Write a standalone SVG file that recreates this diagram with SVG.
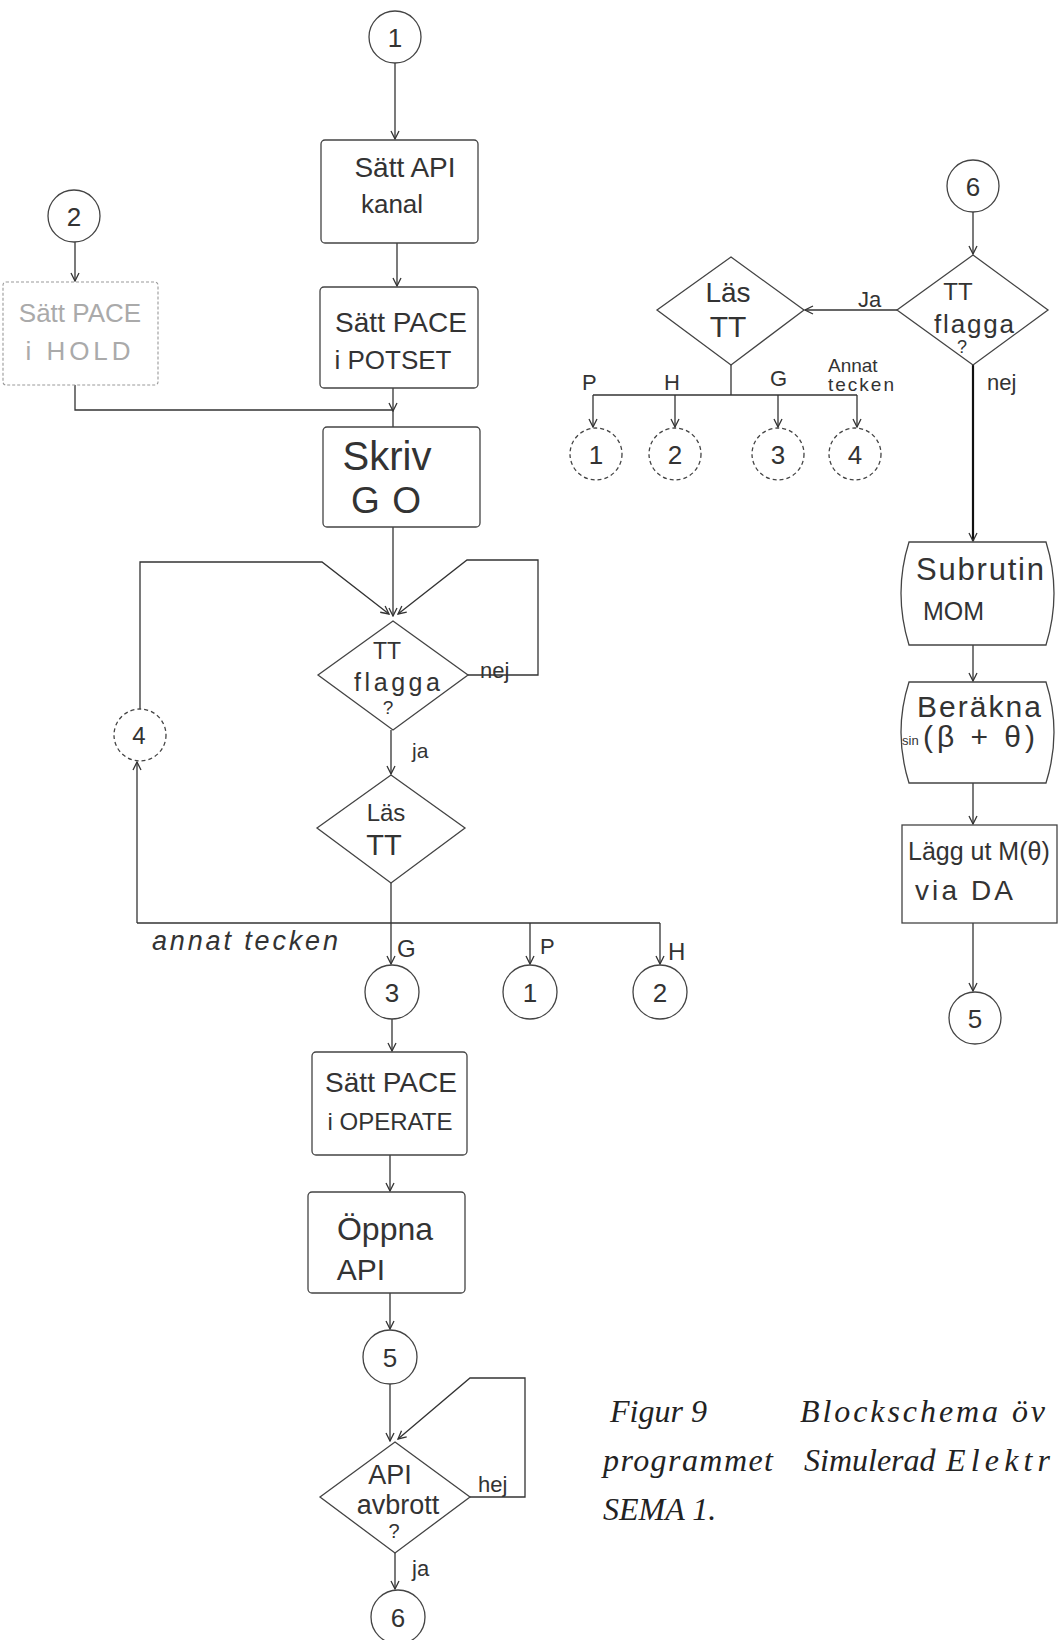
<svg xmlns="http://www.w3.org/2000/svg" width="1058" height="1640" viewBox="0 0 1058 1640">
<style>
.bg{fill:#fff}
.n{fill:none;stroke:#444;stroke-width:1.3}
.faint{fill:none;stroke:#999;stroke-width:1.1;stroke-dasharray:3 2}
.c{fill:none;stroke:#333;stroke-width:1.3}
.thick{fill:none;stroke:#111;stroke-width:2.2}
.t{font-family:"Liberation Sans","DejaVu Sans",sans-serif;fill:#333;text-anchor:middle}
.tl{font-family:"Liberation Sans","DejaVu Sans",sans-serif;fill:#333}
.ft{font-family:"Liberation Sans","DejaVu Sans",sans-serif;fill:#aaa;text-anchor:middle}
.cap{font-family:"Liberation Serif","DejaVu Serif",serif;font-style:italic;fill:#222;font-size:32px}
</style>
<defs>
<marker id="ar" viewBox="0 0 10 10" refX="9" refY="5" markerWidth="10" markerHeight="10" markerUnits="userSpaceOnUse" orient="auto">
<path d="M1,1 L9,5 L1,9" fill="none" stroke="#333" stroke-width="1.3"/>
</marker>
</defs>
<rect class="bg" x="0" y="0" width="1058" height="1640"/>

<g id="connectors">
<path class="c" d="M395 63 V139" marker-end="url(#ar)"/>
<path class="c" d="M397 243 V286" marker-end="url(#ar)"/>
<path class="c" d="M393 388 V411" marker-end="url(#ar)"/>
<path class="c" d="M393 411 V427"/>
<path class="c" d="M75 242 V281" marker-end="url(#ar)"/>
<path class="c" d="M75 385 V410 H393"/>
<path class="c" d="M393 527 V616" marker-end="url(#ar)"/>
<path class="c" d="M140 709 V562 H322 L389 614" marker-end="url(#ar)"/>
<path class="c" d="M468 675 H538 V560 H467 L398 614" marker-end="url(#ar)"/>
<path class="c" d="M391 730 V774" marker-end="url(#ar)"/>
<path class="c" d="M391 883 V923"/>
<path class="c" d="M137 923 H660"/>
<path class="c" d="M391 923 V964" marker-end="url(#ar)"/>
<path class="c" d="M530 923 V964" marker-end="url(#ar)"/>
<path class="c" d="M660 923 V964" marker-end="url(#ar)"/>
<path class="c" d="M137 923 V762" marker-end="url(#ar)"/>
<path class="c" d="M392 1019 V1051" marker-end="url(#ar)"/>
<path class="c" d="M390 1155 V1191" marker-end="url(#ar)"/>
<path class="c" d="M390 1293 V1329" marker-end="url(#ar)"/>
<path class="c" d="M390 1384 V1441" marker-end="url(#ar)"/>
<path class="c" d="M470 1497 H525 V1378 H470 L398 1439" marker-end="url(#ar)"/>
<path class="c" d="M395 1553 V1589" marker-end="url(#ar)"/>
<path class="c" d="M973 212 V254" marker-end="url(#ar)"/>
<path class="c" d="M897 310 H805" marker-end="url(#ar)"/>
<path class="c" d="M731 365 V395"/>
<path class="c" d="M593 395 H857"/>
<path class="c" d="M593 395 V427" marker-end="url(#ar)"/>
<path class="c" d="M675 395 V427" marker-end="url(#ar)"/>
<path class="c" d="M778 395 V427" marker-end="url(#ar)"/>
<path class="c" d="M857 395 V427" marker-end="url(#ar)"/>
<path class="thick" d="M973 365 V541" marker-end="url(#ar)"/>
<path class="c" d="M973 645 V681" marker-end="url(#ar)"/>
<path class="c" d="M973 783 V824" marker-end="url(#ar)"/>
<path class="c" d="M973 923 V991" marker-end="url(#ar)"/>
<g id="connector-labels">
<text class="tl" x="480" y="678" font-size="22">nej</text>
<text class="tl" x="412" y="758" font-size="21">ja</text>
<text class="tl" x="152" y="950" font-size="27" textLength="186" lengthAdjust="spacing" font-style="italic">annat tecken</text>
<text class="tl" x="397" y="957" font-size="24">G</text>
<text class="tl" x="540" y="954" font-size="22">P</text>
<text class="tl" x="668" y="960" font-size="24">H</text>
<text class="tl" x="478" y="1492" font-size="22">hej</text>
<text class="tl" x="412" y="1576" font-size="22">ja</text>
<text class="tl" x="858" y="307" font-size="22">Ja</text>
<text class="tl" x="987" y="390" font-size="22">nej</text>
<text class="tl" x="582" y="390" font-size="22">P</text>
<text class="tl" x="664" y="390" font-size="22">H</text>
<text class="tl" x="770" y="386" font-size="22">G</text>
<text class="tl" x="828" y="372" font-size="19">Annat</text>
<text class="tl" x="828" y="391" font-size="19" textLength="66" lengthAdjust="spacing">tecken</text>
</g>
</g>

<g id="c1"><circle class="n" cx="395" cy="37" r="26"/><text class="t" x="395" y="47" font-size="26">1</text></g>
<g id="boxA"><rect class="n" x="321" y="140" width="157" height="103" rx="4"/><text class="t" x="405" y="177" font-size="28">Sätt API</text><text class="t" x="392" y="213" font-size="26">kanal</text></g>
<g id="boxB"><rect class="n" x="320" y="287" width="158" height="101" rx="4"/><text class="t" x="401" y="332" font-size="28">Sätt PACE</text><text class="t" x="393" y="369" font-size="26">i POTSET</text></g>
<g id="c2"><circle class="n" cx="74" cy="216" r="26"/><text class="t" x="74" y="226" font-size="26">2</text></g>
<g id="box2"><rect class="faint" x="3" y="282" width="155" height="103" rx="3"/><text class="ft" x="80" y="322" font-size="26">Sätt PACE</text><text class="ft" x="78" y="360" font-size="26" textLength="105" lengthAdjust="spacing">i HOLD</text></g>
<g id="boxC"><rect class="n" x="323" y="427" width="157" height="100" rx="4"/><text class="t" x="387" y="470" font-size="40">Skriv</text><text class="t" x="386" y="513" font-size="37" textLength="70" lengthAdjust="spacing">GO</text></g>
<g id="d1"><polygon class="n" points="393,621 468,675 393,730 318,675"/><text class="t" x="387" y="659" font-size="23">TT</text><text class="t" x="397" y="691" font-size="25" textLength="86" lengthAdjust="spacing">flagga</text><text class="t" x="388" y="714" font-size="19">?</text></g>
<g id="c4"><circle class="n" cx="140" cy="735" r="26" stroke-dasharray="4 3"/><text class="t" x="139" y="744" font-size="24">4</text></g>
<g id="d2"><polygon class="n" points="391,775 465,828 391,883 317,828"/><text class="t" x="386" y="821" font-size="24">Läs</text><text class="t" x="384" y="855" font-size="29">TT</text></g>
<g id="c3"><circle class="n" cx="392" cy="992" r="27"/><text class="t" x="392" y="1002" font-size="26">3</text></g>
<g id="c1b"><circle class="n" cx="530" cy="992" r="27"/><text class="t" x="530" y="1002" font-size="26">1</text></g>
<g id="c2b"><circle class="n" cx="660" cy="992" r="27"/><text class="t" x="660" y="1002" font-size="26">2</text></g>
<g id="boxD"><rect class="n" x="312" y="1052" width="155" height="103" rx="4"/><text class="t" x="391" y="1092" font-size="28">Sätt PACE</text><text class="t" x="390" y="1130" font-size="24" fill="#888">i OPERATE</text></g>
<g id="boxE"><rect class="n" x="308" y="1192" width="157" height="101" rx="4"/><text class="t" x="385" y="1240" font-size="32">Öppna</text><text class="t" x="361" y="1280" font-size="30">API</text></g>
<g id="c5"><circle class="n" cx="390" cy="1357" r="27"/><text class="t" x="390" y="1367" font-size="26">5</text></g>
<g id="d3"><polygon class="n" points="395,1442 470,1497 395,1553 320,1497"/><text class="t" x="390" y="1484" font-size="27">API</text><text class="t" x="398" y="1514" font-size="27">avbrott</text><text class="t" x="394" y="1538" font-size="20">?</text></g>
<g id="c6"><circle class="n" cx="398" cy="1617" r="27"/><text class="t" x="398" y="1627" font-size="26">6</text></g>

<g id="c6r"><circle class="n" cx="973" cy="186" r="26"/><text class="t" x="973" y="196" font-size="26">6</text></g>
<g id="d4"><polygon class="n" points="973,255 1048,310 973,365 897,310"/><text class="t" x="958" y="300" font-size="24">TT</text><text class="t" x="974" y="333" font-size="26" textLength="80" lengthAdjust="spacing">flagga</text><text class="t" x="962" y="353" font-size="18">?</text></g>
<g id="d5"><polygon class="n" points="731,257 804,310 731,365 657,310"/><text class="t" x="728" y="302" font-size="28">Läs</text><text class="t" x="728" y="337" font-size="30">TT</text></g>
<g id="r1"><circle class="n" cx="596" cy="454" r="26" stroke-dasharray="4 3"/><text class="t" x="596" y="464" font-size="26">1</text></g>
<g id="r2"><circle class="n" cx="675" cy="454" r="26" stroke-dasharray="4 3"/><text class="t" x="675" y="464" font-size="26">2</text></g>
<g id="r3"><circle class="n" cx="778" cy="454" r="26" stroke-dasharray="4 3"/><text class="t" x="778" y="464" font-size="26">3</text></g>
<g id="r4"><circle class="n" cx="855" cy="454" r="26" stroke-dasharray="4 3"/><text class="t" x="855" y="464" font-size="26">4</text></g>
<g id="sub"><path class="n" d="M909 542 H1046 Q1062 593 1046 645 H909 Q893 593 909 542 Z"/><text class="tl" x="916" y="580" font-size="31" textLength="128" lengthAdjust="spacing">Subrutin</text><text class="tl" x="923" y="620" font-size="25">MOM</text></g>
<g id="ber"><path class="n" d="M909 682 H1046 Q1062 732 1046 783 H909 Q893 732 909 682 Z"/><text class="tl" x="917" y="717" font-size="30" textLength="124" lengthAdjust="spacing">Beräkna</text><text class="tl" x="902" y="745" font-size="13" fill="#888">sin</text><text class="tl" x="923" y="747" font-size="30" textLength="112" lengthAdjust="spacing">(β + θ)</text></g>
<g id="lagg"><rect class="n" x="902" y="825" width="155" height="98"/><text class="tl" x="908" y="860" font-size="25">Lägg ut M(θ)</text><text class="tl" x="915" y="900" font-size="28" textLength="98" lengthAdjust="spacing">via DA</text></g>
<g id="c5r"><circle class="n" cx="975" cy="1018" r="26"/><text class="t" x="975" y="1028" font-size="26">5</text></g>

<g id="caption">
<text class="cap" x="610" y="1422" font-size="34">Figur 9</text>
<text class="cap" x="800" y="1422" textLength="245" lengthAdjust="spacing">Blockschema öv</text>
<text class="cap" x="603" y="1471" textLength="170" lengthAdjust="spacing">programmet</text>
<text class="cap" x="804" y="1471" font-size="30">Simulerad</text>
<text class="cap" x="946" y="1471" font-size="32" textLength="104" lengthAdjust="spacing">Elektr</text>
<text class="cap" x="603" y="1520">SEMA 1.</text>
</g>
</svg>
